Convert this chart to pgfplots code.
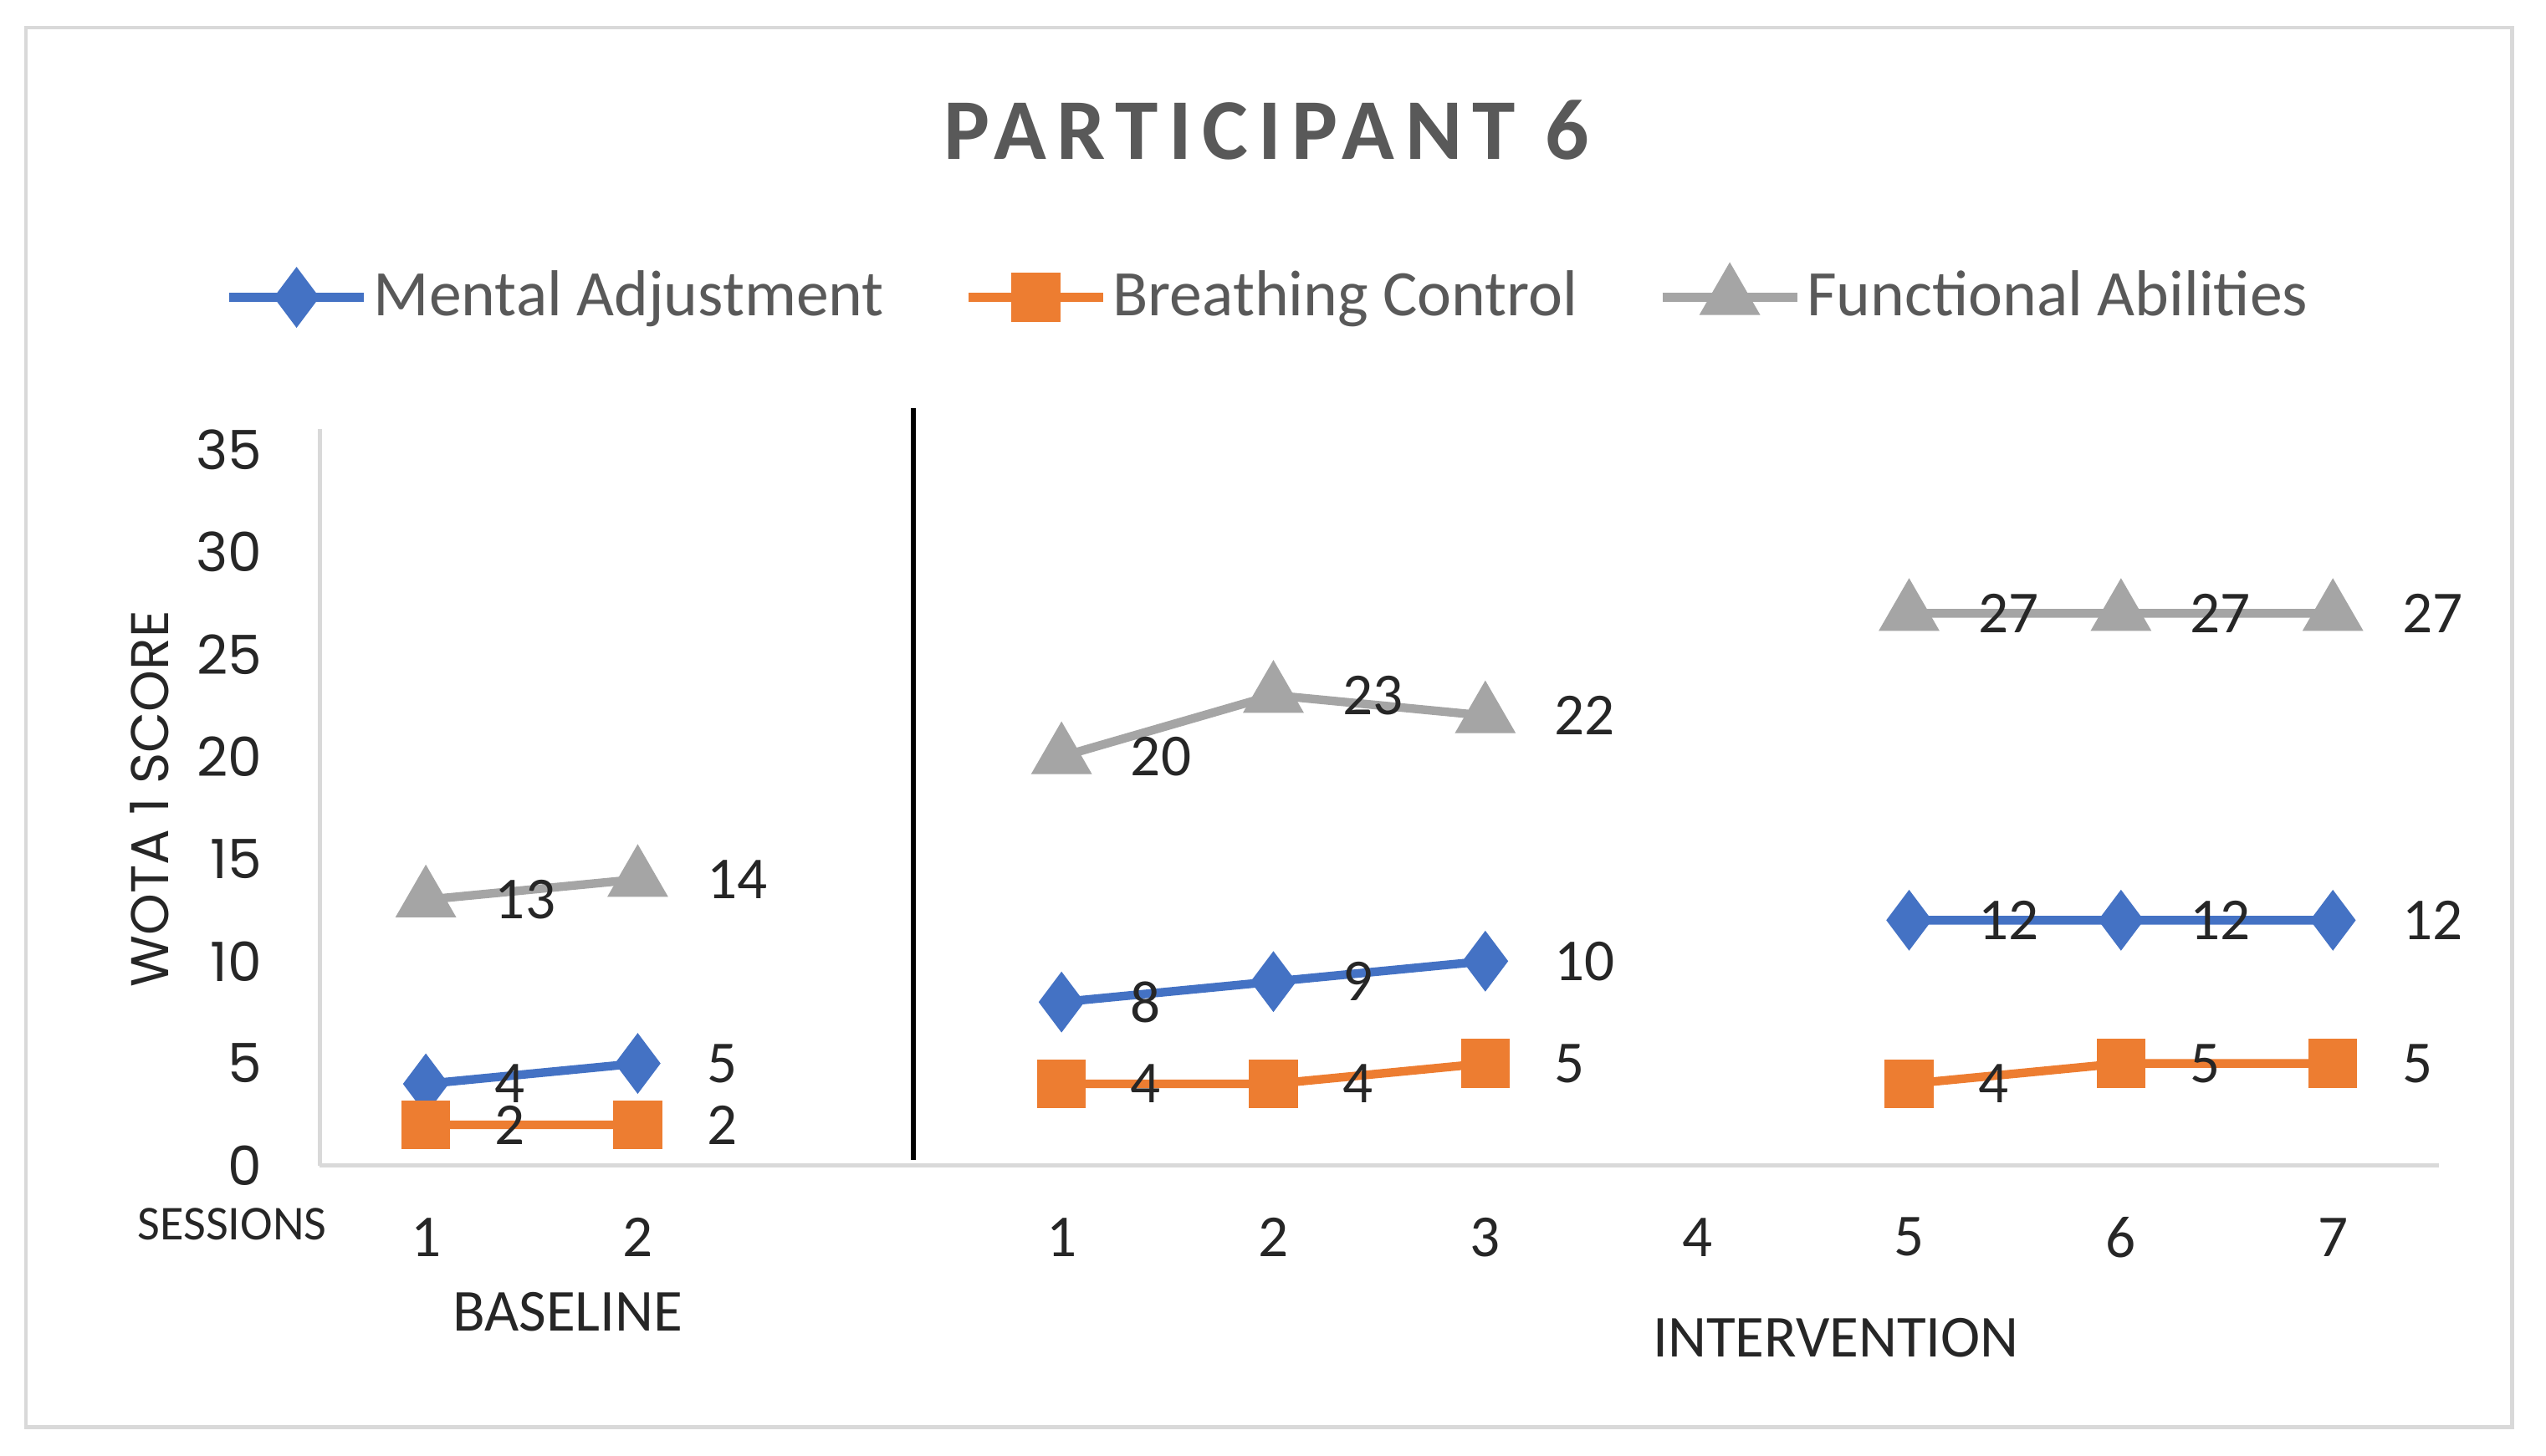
\documentclass[border=0pt]{standalone}
\usepackage{fontspec}
\setmainfont{Carlito}
\newfontfamily\gothic{Poppins}
\usepackage{pgfplots}
\usepackage{pgfplotstable}
\pgfplotsset{compat=1.18}

\definecolor{maBlue}{HTML}{4472C4}
\definecolor{bcOrange}{HTML}{ED7D31}
\definecolor{faGray}{HTML}{A5A5A5}
\definecolor{axisGray}{HTML}{D9D9D9}
\definecolor{textGray}{HTML}{595959}
\definecolor{labelDark}{HTML}{262626}

% x: 0,1 = baseline sessions 1-2; 2 = empty slot; 3..9 = intervention sessions 1-7
\pgfplotstableread{
x  mental breath funct
0  4   2   13
1  5   2   14
2  nan nan nan
3  8   4   20
4  9   4   23
5  10  5   22
6  nan nan nan
7  12  4   27
8  12  5   27
9  12  5   27
}\sessions

\begin{document}
\begin{tikzpicture}
\path[use as bounding box] (0,0) rectangle (470.4pt,268.9pt);
\draw[axisGray, line width=0.7pt] (4.8pt,5.2pt) rectangle (464.1pt,263.8pt);

\begin{axis}[
  at={(59.1pt,53.5pt)}, anchor=south west,
  scale only axis, width=391.5pt, height=136.1pt,
  xmin=-0.5, xmax=9.5, ymin=0, ymax=36,
  axis x line=bottom, axis y line=left,
  axis line style={-, draw=axisGray, line width=0.8pt},
  major tick length=0pt,
  xtick={0,1,3,4,5,6,7,8,9},
  xticklabels={1,2,1,2,3,4,5,6,7},
  ytick={0,5,...,35},
  /pgf/number format/assume math mode=true,
  xticklabel style={font=\fontsize{11}{13}\selectfont, text=labelDark, anchor=center, yshift=-13.2pt},
  yticklabel style={font=\gothic\fontsize{10}{12}\selectfont, text=labelDark, anchor=east, inner sep=0pt, xshift=-10.5pt},
  unbounded coords=jump,
  clip=false,
  nodes near coords,
  every node near coord/.append style={font=\fontsize{11}{13}\selectfont, text=labelDark, anchor=west, xshift=12pt, inner sep=0pt},
  legend columns=3,
  legend style={at={(0.448,1.179)}, anchor=center, draw=none, fill=none,
    font=\fontsize{12}{14}\selectfont, text=textGray,
    /tikz/every even column/.append style={column sep=13.8pt},
    nodes={inner sep=1pt}},
  legend image code/.code={\draw[mark repeat=2, mark phase=2] plot coordinates {(0pt,0pt) (12.45pt,0pt) (24.9pt,0pt)};},
]
\addplot[color=maBlue, line width=1.6pt, mark=diamond*, mark size=4.3pt, mark options={solid}] table[x=x, y=mental] {\sessions};
\addlegendentry{Mental Adjustment}
\addplot[color=bcOrange, line width=1.6pt, mark=square*, mark size=3.7pt, mark options={solid}] table[x=x, y=breath] {\sessions};
\addlegendentry{Breathing Control}
\addplot[color=faGray, line width=1.6pt, mark=triangle*, mark size=4.9pt, mark options={solid}] table[x=x, y=funct] {\sessions};
\addlegendentry{Functional Abilities}

% phase divider between baseline and intervention
\draw[black, line width=1pt] (axis cs:2.3,0.3) -- (axis cs:2.3,37.03);
\end{axis}

\node[font=\bfseries\fontsize{16}{19}\selectfont, text=textGray] at (234pt,244.9pt) {\addfontfeatures{LetterSpace=12}PARTICIPANT 6};
\node[rotate=90, font=\gothic\fontsize{9.8}{12}\selectfont, text=labelDark] at (27.6pt,121.3pt) {WOTA 1 SCORE};
\node[font=\fontsize{9}{11}\selectfont, text=labelDark] at (42.9pt,42.7pt) {SESSIONS};
\node[font=\fontsize{11}{13}\selectfont, text=labelDark] at (104.9pt,26.5pt) {BASELINE};
\node[font=\fontsize{11}{13}\selectfont, text=labelDark] at (339.2pt,21.7pt) {INTERVENTION};
\end{tikzpicture}
\end{document}
